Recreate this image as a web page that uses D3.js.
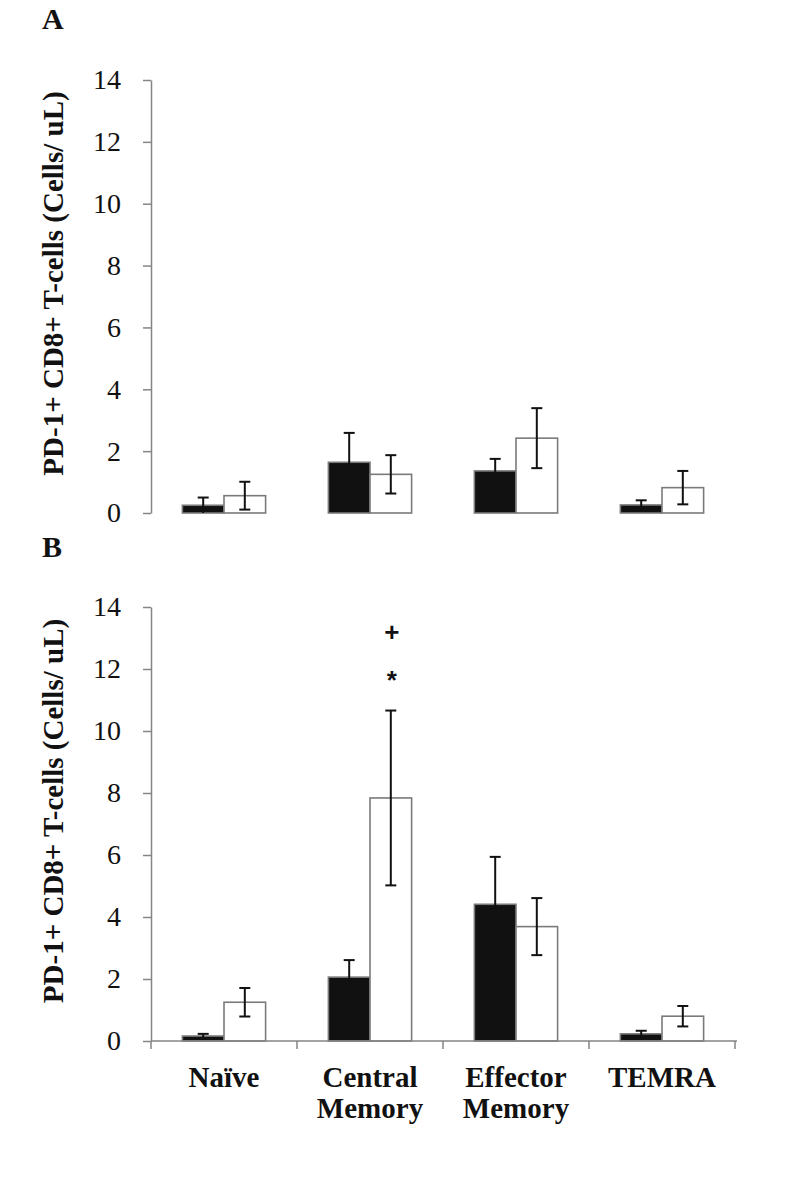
<!DOCTYPE html>
<html>
<head>
<meta charset="utf-8">
<script src="https://cdn.jsdelivr.net/npm/d3@7/dist/d3.min.js"></script>
<style>
  body { margin: 0; background: #fff; }
  svg { display: block; font-family: 'Liberation Serif', 'Times New Roman', serif; }
</style>
</head>
<body>
<svg id="chart" width="787" height="1186"></svg>
<script>
// categories and tick labels
const categories = ["Naïve", "Central Memory", "Effector Memory", "TEMRA"];
const catLines = [["Naïve"], ["Central", "Memory"], ["Effector", "Memory"], ["TEMRA"]];
const yTicks = [0, 2, 4, 6, 8, 10, 12, 14];
const yLabel = "PD-1+ CD8+ T-cells (Cells/ uL)";

// panel A: black and white series with error (SE)
const aBlack = [0.25, 1.64, 1.36, 0.26];
const aBlackErr = [0.25, 0.95, 0.39, 0.15];
const aWhite = [0.56, 1.25, 2.42, 0.82];
const aWhiteErr = [0.45, 0.62, 0.97, 0.54];

// panel B
const bBlack = [0.16, 2.06, 4.41, 0.23];
const bBlackErr = [0.07, 0.55, 1.53, 0.10];
const bWhite = [1.25, 7.84, 3.69, 0.80];
const bWhiteErr = [0.46, 2.82, 0.92, 0.33];

// significance marks in panel B (category, value, symbol)
const bMarks = [
  { cat: "Central Memory", value: 13.2, sym: "+" },
  { cat: "Central Memory", value: 11.85, sym: "*" }
];

const svg = d3.select("#chart");
const axisColor = "#858585";
const serif = "'Liberation Serif', 'Times New Roman', serif";

const x = d3.scaleBand()
  .domain(categories)
  .range([151, 735])
  .paddingInner(0.43)
  .paddingOuter(0.215);

const series = d3.scaleBand()
  .domain(["black", "white"])
  .range([0, x.bandwidth()]);

function panel(top, bottom, letter, letterY, black, blackErr, white, whiteErr, showX, marks) {
  const y = d3.scaleLinear().domain([0, 14]).range([bottom, top]);
  const g = svg.append("g");

  // y axis
  const yAxis = g.append("g")
    .attr("transform", "translate(151,0)")
    .call(d3.axisLeft(y).tickValues(yTicks).tickSize(8).tickPadding(22).tickSizeOuter(0))
    .attr("font-family", serif)
    .attr("font-size", 28);
  yAxis.select(".domain").attr("stroke", axisColor).attr("stroke-width", 1.5);
  yAxis.selectAll(".tick line").attr("stroke", axisColor).attr("stroke-width", 1.5);
  yAxis.selectAll(".tick text").attr("fill", "#111");

  // y label
  g.append("text")
    .attr("transform", `translate(63,${(top + bottom) / 2 - 13}) rotate(-90)`)
    .attr("text-anchor", "middle")
    .style("font-family", serif)
    .style("font-weight", "bold")
    .style("font-size", "29px")
    .attr("fill", "#111")
    .text(yLabel);

  // panel letter
  g.append("text")
    .attr("x", 42)
    .attr("y", letterY)
    .style("font-family", serif)
    .style("font-weight", "bold")
    .style("font-size", "30px")
    .attr("fill", "#111")
    .text(letter);

  const rows = categories.map((c, i) => ({
    cat: c,
    bars: [
      { s: "black", v: black[i], e: blackErr[i] },
      { s: "white", v: white[i], e: whiteErr[i] }
    ]
  }));

  const groups = g.selectAll(".grp").data(rows).enter().append("g")
    .attr("transform", d => `translate(${x(d.cat)},0)`);

  groups.selectAll("rect").data(d => d.bars).enter().append("rect")
    .attr("x", d => series(d.s))
    .attr("y", d => y(d.v))
    .attr("width", series.bandwidth())
    .attr("height", d => y(0) - y(d.v))
    .attr("fill", d => d.s === "black" ? "#111" : "#fff")
    .attr("stroke", "#7a7a7a")
    .attr("stroke-width", 1.6);

  // error bars
  const eb = groups.selectAll(".eb").data(d => d.bars).enter().append("g")
    .attr("stroke", "#111")
    .attr("stroke-width", 2);
  const cx = d => series(d.s) + series.bandwidth() / 2;
  eb.append("line")
    .attr("x1", cx).attr("x2", cx)
    .attr("y1", d => y(Math.max(0, d.v - d.e)))
    .attr("y2", d => y(d.v + d.e));
  eb.append("line")
    .attr("x1", d => cx(d) - 5.5).attr("x2", d => cx(d) + 5.5)
    .attr("y1", d => y(d.v + d.e)).attr("y2", d => y(d.v + d.e));
  eb.filter(d => d.v - d.e > 0.01).append("line")
    .attr("x1", d => cx(d) - 5.5).attr("x2", d => cx(d) + 5.5)
    .attr("y1", d => y(d.v - d.e)).attr("y2", d => y(d.v - d.e));

  if (showX) {
    const xAxis = g.append("g")
      .attr("transform", `translate(0,${bottom})`);
    xAxis.append("line")
      .attr("x1", 151).attr("x2", 737)
      .attr("y1", 0).attr("y2", 0)
      .attr("stroke", axisColor).attr("stroke-width", 1.5);
    const bounds = categories.map(c => x(c) - x.step() * x.paddingInner() / 2);
    bounds.push(x.range()[1]);
    bounds[0] = x.range()[0];
    xAxis.selectAll(".xt").data(bounds).enter().append("line")
      .attr("x1", d => d).attr("x2", d => d)
      .attr("y1", 0).attr("y2", 8)
      .attr("stroke", axisColor).attr("stroke-width", 1.5);

    const lab = xAxis.selectAll(".xl").data(categories).enter().append("text")
      .attr("text-anchor", "middle")
      .attr("transform", d => `translate(${x(d) + x.bandwidth() / 2},46)`)
      .style("font-family", serif)
      .style("font-weight", "bold")
      .style("font-size", "29px")
      .attr("fill", "#111");
    lab.selectAll("tspan").data((d, i) => catLines[i]).enter().append("tspan")
      .attr("x", 0)
      .attr("dy", (d, i) => i === 0 ? 0 : 31)
      .text(d => d);
  }

  if (marks) {
    g.selectAll(".mk").data(marks).enter().append("text")
      .attr("x", d => x(d.cat) + series("white") + series.bandwidth() / 2 + 1)
      .attr("y", d => y(d.value) + (d.sym === "*" ? 15 : 9))
      .attr("text-anchor", "middle")
      .style("font-family", "'Liberation Sans', Arial, sans-serif")
      .style("font-weight", "bold")
      .style("font-size", "26px")
      .attr("fill", "#111")
      .text(d => d.sym);
  }
}

panel(80, 513, "A", 29, aBlack, aBlackErr, aWhite, aWhiteErr, false, null);
panel(607, 1041, "B", 557, bBlack, bBlackErr, bWhite, bWhiteErr, true, bMarks);
</script>
</body>
</html>
